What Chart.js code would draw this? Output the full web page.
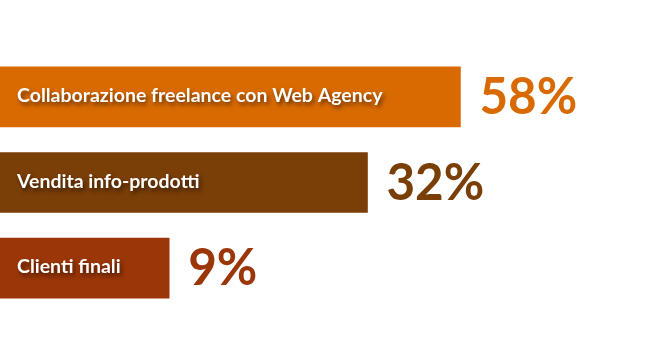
<!DOCTYPE html>
<html lang="it">
<head>
<meta charset="UTF-8">
<title>Collaborazioni</title>
<script src="https://cdn.jsdelivr.net/npm/chart.js"></script>
<style>
  html, body { margin: 0; padding: 0; background: #fff; }
  #wrap { width: 650px; height: 357px; }
</style>
</head>
<body>
<div id="wrap"><canvas id="chart"></canvas></div>
<script>
const categories = ['Collaborazione freelance con Web Agency', 'Vendita info-prodotti', 'Clienti finali'];
const percentages = [58, 32, 9];
const valueLabels = ['58%', '32%', '9%'];
const barColors = ['#d96a02', '#7a3e07', '#9a3607'];

// labels inside bars and the big percentage after each bar
const barLabels = {
  id: 'barLabels',
  afterDatasetsDraw(chart) {
    const ctx = chart.ctx;
    const meta = chart.getDatasetMeta(0);
    meta.data.forEach((bar, i) => {
      ctx.save();
      ctx.textBaseline = 'alphabetic';
      ctx.textAlign = 'left';
      ctx.font = 'bold 19.5px Lato';
      ctx.fillStyle = '#fff';
      ctx.shadowColor = 'rgba(0,0,0,0.55)';
      ctx.shadowOffsetX = 2;
      ctx.shadowOffsetY = 3;
      ctx.shadowBlur = 4;
      ctx.fillText(categories[i], 17, bar.y + 5);
      ctx.restore();

      ctx.save();
      ctx.textBaseline = 'alphabetic';
      ctx.font = 'bold 52px Lato';
      ctx.fillStyle = barColors[i];
      ctx.translate(bar.x + 19, bar.y + 17);
      ctx.scale(0.95, 1);
      ctx.fillText(valueLabels[i], 0, 0);
      ctx.restore();
    });
  }
};

new Chart(document.getElementById('chart'), {
  type: 'bar',
  data: {
    labels: categories,
    datasets: [{
      data: percentages,
      backgroundColor: barColors,
      borderWidth: 0,
      barThickness: 60
    }]
  },
  options: {
    indexAxis: 'y',
    responsive: true,
    maintainAspectRatio: false,
    animation: false,
    layout: { padding: { top: 54, bottom: 46, left: 0, right: 0 } },
    plugins: { legend: { display: false }, tooltip: { enabled: false } },
    scales: {
      x: { type: 'logarithmic', min: 3.05, max: 195, bounds: 'data', display: false },
      y: { display: false }
    }
  },
  plugins: [barLabels]
});
</script>
</body>
</html>
